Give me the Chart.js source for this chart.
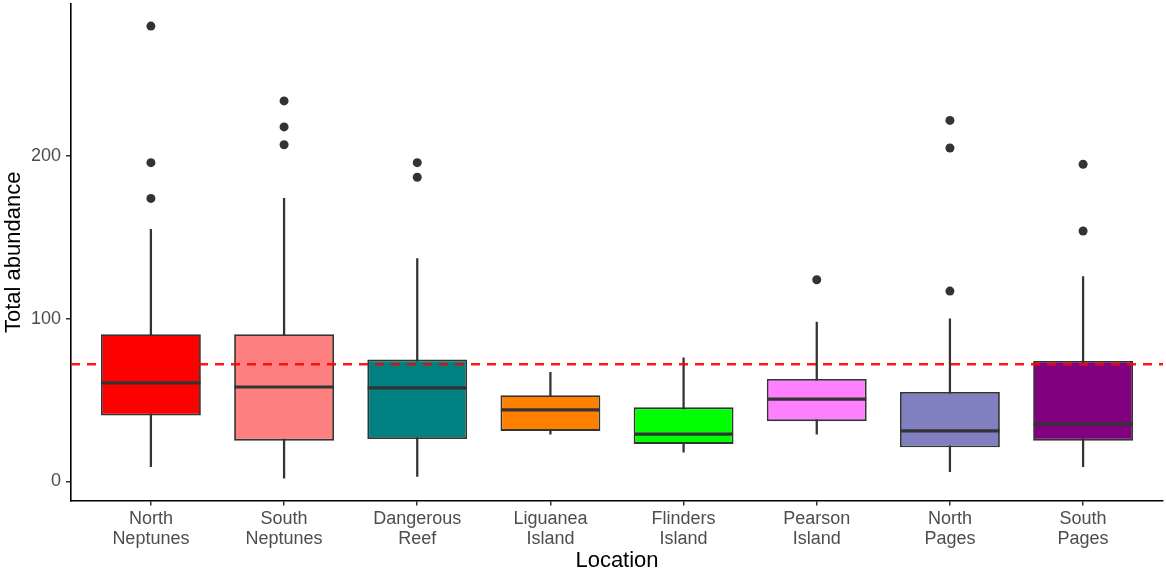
<!DOCTYPE html>
<html>
<head>
<meta charset="utf-8">
<script src="https://cdn.jsdelivr.net/npm/chart.js@4"></script>
<style>
  html, body { margin: 0; padding: 0; background: #ffffff; }
  #wrap { width: 1166px; height: 571px; }
</style>
</head>
<body>
<div id="wrap"><canvas id="c" width="1166" height="571"></canvas></div>
<script>
// ---- data ----
const categories = ['North Neptunes', 'South Neptunes', 'Dangerous Reef', 'Liguanea Island',
                    'Flinders Island', 'Pearson Island', 'North Pages', 'South Pages'];
const whiskerLow  = [9, 2, 3, 29, 18, 29, 6, 9];
const q1          = [40.5, 25, 26, 31, 23, 37, 21, 25];
const medians     = [60.5, 58, 57.5, 44, 29, 50.5, 31, 35];
const q3          = [90.5, 90.5, 75, 53, 45.5, 63, 55, 74];
const whiskerHigh = [155, 174, 137, 67, 76, 98, 100, 126];
const outliers    = [[280, 196, 174], [234, 218, 207], [196, 187], [], [], [124], [222, 205, 117], [195, 154]];
const boxColors   = ['#FF0000', '#FF8080', '#008080', '#FF8000', '#00FF00', '#FF80FF', '#8080C0', '#800080'];
const referenceValue = 72;
const yTicks = [0, 100, 200];
const yMin = -11.8, yMax = 293.6;
const xMin = 0.4, xMax = categories.length + 0.6;

const FONT = "'Liberation Sans', Arial, Helvetica, sans-serif";
const pos = categories.map((_, i) => i + 1);

const whiskerData = pos.map((x, i) => ({ x: x, y: [whiskerLow[i], whiskerHigh[i]] }));
const boxData = pos.map((x, i) => ({ x: x, y: [q1[i], q3[i]] }));
const medianData = pos.map((x, i) => ({ x: x, y: medians[i] }));
const outlierData = [];
outliers.forEach((arr, i) => arr.forEach(v => outlierData.push({ x: pos[i], y: v })));
const refData = [{ x: xMin, y: referenceValue }, { x: xMax, y: referenceValue }];

new Chart(document.getElementById('c'), {
  type: 'bar',
  data: {
    datasets: [
      {
        type: 'line', data: refData, order: 0,
        borderColor: 'rgba(255,0,0,0.9)', borderWidth: 2.4, borderDash: [9, 7],
        pointRadius: 0, fill: false
      },
      {
        type: 'scatter', data: outlierData, order: 1,
        pointRadius: 4.5, pointBackgroundColor: '#333333', pointBorderWidth: 0,
        pointBorderColor: '#333333'
      },
      {
        type: 'scatter', data: medianData, order: 2,
        pointStyle: 'line', pointRadius: 49.5, pointBorderWidth: 3.2,
        pointBorderColor: '#333333', pointBackgroundColor: '#333333'
      },
      {
        type: 'bar', data: boxData, order: 3, grouped: false,
        backgroundColor: boxColors, borderColor: '#333333', borderWidth: 1.8,
        borderSkipped: false, categoryPercentage: 1.0, barPercentage: 0.75
      },
      {
        type: 'bar', data: whiskerData, order: 4, grouped: false,
        backgroundColor: '#333333', borderWidth: 0, barThickness: 1.6
      }
    ]
  },
  options: {
    responsive: false,
    animation: false,
    events: [],
    layout: { autoPadding: false, padding: { top: 4, right: 3, left: 0, bottom: 0 } },
    plugins: { legend: { display: false }, tooltip: { enabled: false } },
    scales: {
      x: {
        type: 'linear', min: xMin, max: xMax, offset: false,
        afterBuildTicks: s => { s.ticks = pos.map(v => ({ value: v })); },
        afterFit: s => { s.height = 70.5; s.paddingLeft = 0; s.paddingRight = 0; },
        grid: { display: true, drawOnChartArea: false, drawTicks: true, tickLength: 5,
                color: '#333333', lineWidth: 1.5, offset: false },
        border: { display: true, color: '#000000', width: 1.6 },
        ticks: {
          autoSkip: false, maxRotation: 0, padding: 3,
          color: '#4D4D4D', font: { family: FONT, size: 18, lineHeight: 1.12 },
          callback: (v) => {
            const i = Math.round(v) - 1;
            return categories[i] ? categories[i].split(' ') : '';
          }
        },
        title: { display: true, text: 'Location', color: '#000000',
                 font: { family: FONT, size: 22, lineHeight: 1.0 }, padding: { top: 0, bottom: -1 } }
      },
      y: {
        type: 'linear', min: yMin, max: yMax,
        afterBuildTicks: s => { s.ticks = yTicks.map(v => ({ value: v })); },
        afterFit: s => { s.width = 71; s.paddingTop = 0; s.paddingBottom = 0; },
        grid: { display: true, drawOnChartArea: false, drawTicks: true, tickLength: 5,
                color: '#333333', lineWidth: 1.5 },
        border: { display: true, color: '#000000', width: 1.6 },
        ticks: { padding: 5, color: '#4D4D4D', font: { family: FONT, size: 18 } },
        title: { display: true, text: 'Total abundance', color: '#000000',
                 font: { family: FONT, size: 22, lineHeight: 1.2 }, padding: { top: 1, bottom: 0 } }
      }
    }
  }
});
</script>
</body>
</html>
